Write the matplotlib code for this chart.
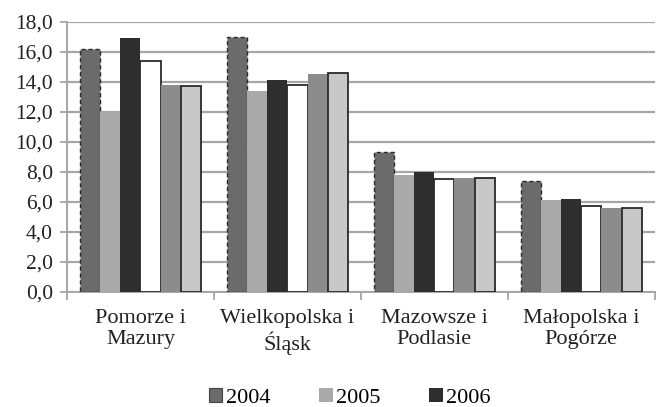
import matplotlib
matplotlib.use("Agg")
import matplotlib.pyplot as plt
import numpy as np
from matplotlib.patches import Patch

categories = ["Pomorze i\nMazury", "Wielkopolska i\nŚląsk", "Mazowsze i\nPodlasie", "Małopolska i\nPogórze"]
s2004 = [16.2, 17.0, 9.3, 7.4]
s2005 = [12.0, 13.4, 7.8, 6.1]
s2006 = [16.9, 14.1, 8.0, 6.2]
s4 = [15.4, 13.8, 7.5, 5.7]
s5 = [13.8, 14.5, 7.6, 5.6]
s6 = [13.7, 14.6, 7.6, 5.6]
legend_labels = ["2004", "2005", "2006"]
yticks = np.arange(0, 18.1, 2)

plt.rcParams['font.family'] = ['Liberation Serif', 'DejaVu Serif']

fig = plt.figure(figsize=(6.6, 4.07), dpi=100)
ax = fig.add_axes([0.1015, 0.2826, 0.8905, 0.6634])

series = [s2004, s2005, s2006, s4, s5, s6]
styles = [
    dict(color="#6b6b6b", edgecolor="#2a2a2a", linewidth=1.0, linestyle=(0, (3, 2))),
    dict(color="#a9a9a9", edgecolor="none", linewidth=0),
    dict(color="#2e2e2e", edgecolor="none", linewidth=0),
    dict(color="#ffffff", edgecolor="#2a2a2a", linewidth=1.3),
    dict(color="#8c8c8c", edgecolor="none", linewidth=0),
    dict(color="#c8c8c8", edgecolor="#2a2a2a", linewidth=1.3),
]
x = np.arange(len(categories))
w = 0.137
for i, (vals, st) in enumerate(zip(series, styles)):
    ax.bar(x + (i - 2.5) * w, vals, width=w, zorder=3, **st)

ax.set_xlim(-0.5, len(categories) - 0.5)
ax.set_ylim(0, 18)
ax.set_yticks(yticks)
ax.set_yticklabels([f"{v:.1f}".replace(".", ",") for v in yticks], fontsize=15.5, color="#222222")
ax.yaxis.grid(True, color="#a6a6a6", linewidth=1.6, zorder=0)
ax.set_xticks(x)
ax.set_xticklabels(categories, fontsize=16, color="#222222", linespacing=1.2)
ax.tick_params(axis='x', length=0, pad=12)
ax.set_xticks(np.arange(-0.5, len(categories)), minor=True)
ax.tick_params(axis='x', which='minor', length=6, color="#a6a6a6", width=1.3)
ax.tick_params(axis='y', length=5, color="#a6a6a6", width=1.3, pad=5)
for s in ['top', 'right']:
    ax.spines[s].set_visible(False)
for s in ['left', 'bottom']:
    ax.spines[s].set_color("#a6a6a6")
    ax.spines[s].set_linewidth(1.4)

handles = [Patch(facecolor="#6b6b6b", edgecolor="#444444", linewidth=0.8),
           Patch(facecolor="#a9a9a9", edgecolor="none"),
           Patch(facecolor="#2e2e2e", edgecolor="none")]
fig.legend(handles, legend_labels, loc="center", bbox_to_anchor=(0.53, 0.022), ncol=3,
           frameon=False, fontsize=16, handlelength=0.6, handleheight=0.6,
           handletextpad=0.15, columnspacing=2.2)

fig.savefig("out.png", dpi=100)
